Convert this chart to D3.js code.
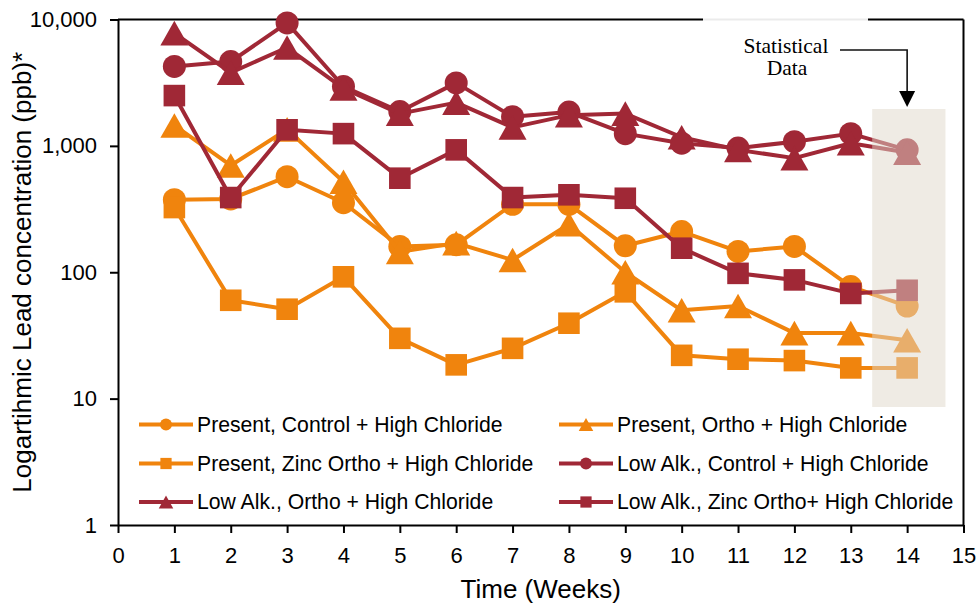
<!DOCTYPE html>
<html>
<head>
<meta charset="utf-8">
<script src="https://cdn.jsdelivr.net/npm/d3@7"></script>
<style>
  html, body { margin: 0; padding: 0; background: #fff; }
  svg { display: block; }
  text { font-family: "Liberation Sans", Arial, sans-serif; fill: #000; }
</style>
</head>
<body>
<svg id="chart" width="979" height="608"></svg>
<script>
// Weeks sampled
const weeks = [1, 2, 3, 4, 5, 6, 7, 8, 9, 10, 11, 12, 13, 14];

// Lead concentration (ppb) per treatment
const presentControl   = [375, 380, 570, 355, 160, 165, 345, 345, 162, 210, 146, 160, 77, 54];
const presentOrtho     = [1450, 700, 1350, 520, 145, 170, 125, 240, 100, 50, 54, 33, 33, 29];
const presentZincOrtho = [325, 60, 51, 92, 30, 18.5, 25, 39.5, 70, 22, 20.5, 20, 17.5, 17.5];
const lowAlkControl    = [4250, 4650, 9400, 2950, 1870, 3150, 1700, 1850, 1250, 1050, 960, 1080, 1250, 930];
const lowAlkOrtho      = [7800, 3800, 6000, 2850, 1800, 2200, 1400, 1750, 1800, 1170, 930, 800, 1050, 885];
const lowAlkZincOrtho  = [2500, 390, 1340, 1250, 555, 930, 390, 410, 385, 155, 98, 87, 68, 72];

const seriesNames = [
  "Present, Control + High Chloride",
  "Present, Ortho + High Chloride",
  "Present, Zinc Ortho + High Chloride",
  "Low Alk., Control + High Chloride",
  "Low Alk., Ortho + High Chloride",
  "Low Alk., Zinc Ortho+ High Chloride"
];

// Axis ticks
const xTicks = d3.range(0, 16);
const yTicks = [1, 10, 100, 1000, 10000];
const yTickLabels = ["1", "10", "100", "1,000", "10,000"];

const ORANGE = "#f0840d";
const MAROON = "#a02836";

const series = [
  { name: seriesNames[0], values: presentControl,   color: ORANGE, shape: "circle" },
  { name: seriesNames[1], values: presentOrtho,     color: ORANGE, shape: "triangle" },
  { name: seriesNames[2], values: presentZincOrtho, color: ORANGE, shape: "square" },
  { name: seriesNames[3], values: lowAlkControl,    color: MAROON, shape: "circle" },
  { name: seriesNames[4], values: lowAlkOrtho,      color: MAROON, shape: "triangle" },
  { name: seriesNames[5], values: lowAlkZincOrtho,  color: MAROON, shape: "square" }
];

const svg = d3.select("#chart");
const plotLeft = 118, plotRight = 963.5, plotTop = 19.5, plotBottom = 525;

const x = d3.scaleLinear().domain([0, 15]).range([plotLeft, plotRight]);
const y = d3.scaleLog().domain([1, 10000]).range([plotBottom, plotTop]);

// marker path generator, centred on (0,0)
function markerPath(shape, s) {
  if (shape === "circle") {
    const r = 11.5 * s;
    return `M${-r},0A${r},${r} 0 1,0 ${r},0A${r},${r} 0 1,0 ${-r},0Z`;
  }
  if (shape === "square") {
    const h = 10.8 * s;
    return `M${-h},${-h}H${h}V${h}H${-h}Z`;
  }
  const w = 14 * s, hh = 12.3 * s;
  return `M0,${-hh}L${w},${hh}L${-w},${hh}Z`;
}

// frame: top and right borders
svg.append("line").attr("x1", plotLeft).attr("x2", plotRight).attr("y1", plotTop).attr("y2", plotTop)
  .attr("stroke", "#000").attr("stroke-width", 2);
svg.append("line").attr("x1", plotRight).attr("x2", plotRight).attr("y1", plotTop).attr("y2", plotBottom)
  .attr("stroke", "#000").attr("stroke-width", 2);

// axes
const xAxis = svg.append("g").attr("transform", `translate(0,${plotBottom})`)
  .call(d3.axisBottom(x).tickValues(xTicks).tickSize(8).tickPadding(14).tickSizeOuter(0).tickFormat(d3.format("d")));
const yAxis = svg.append("g").attr("transform", `translate(${plotLeft},0)`)
  .call(d3.axisLeft(y).tickValues(yTicks).tickSize(8).tickPadding(13).tickSizeOuter(0)
    .tickFormat((d, i) => yTickLabels[i]));
[xAxis, yAxis].forEach(g => {
  g.selectAll("path.domain").attr("stroke", "#000").attr("stroke-width", 2);
  g.selectAll(".tick line").attr("stroke", "#000").attr("stroke-width", 2);
  g.selectAll(".tick text").attr("font-size", 22).attr("fill", "#000")
    .attr("font-family", "'Liberation Sans', Arial, sans-serif");
});

// axis titles
svg.append("text").attr("x", x(7.5)).attr("y", 598).attr("text-anchor", "middle")
  .attr("font-size", 26).text("Time (Weeks)");
svg.append("text").attr("transform", `translate(31,${(plotTop + plotBottom) / 2}) rotate(-90)`)
  .attr("text-anchor", "middle").attr("font-size", 26)
  .text("Logartihmic Lead concentration (ppb)*");

// series lines and markers
const line = d3.line().x((d, i) => x(weeks[i])).y(d => y(d));
const plot = svg.append("g");
series.forEach(s => {
  const g = plot.append("g");
  g.append("path").attr("d", line(s.values)).attr("fill", "none")
    .attr("stroke", s.color).attr("stroke-width", 4).attr("stroke-linejoin", "round");
  g.selectAll("path.mk").data(s.values).join("path").attr("class", "mk")
    .attr("d", markerPath(s.shape, 1))
    .attr("transform", (d, i) => `translate(${x(weeks[i])},${y(d)})`)
    .attr("fill", s.color);
});

// translucent highlight over the final week
svg.append("rect")
  .attr("x", x(13.38)).attr("width", x(14.68) - x(13.38))
  .attr("y", 109).attr("height", 407 - 109)
  .attr("fill", "#dfd7c9").attr("fill-opacity", 0.5);

// annotation label box covering the frame
svg.append("rect").attr("x", 703).attr("y", 12).attr("width", 165).attr("height", 68)
  .attr("fill", "#fff").attr("fill-opacity", 0.92);
const ann = svg.append("text").attr("text-anchor", "middle")
  .style("font-family", "'Liberation Serif', 'Times New Roman', serif").attr("font-size", 21.5);
ann.append("tspan").attr("x", 786).attr("y", 53).text("Statistical");
ann.append("tspan").attr("x", 787).attr("y", 75).text("Data");

// arrow pointing into the highlight
svg.append("path")
  .attr("d", `M840,50H${x(14)}V93`)
  .attr("fill", "none").attr("stroke", "#111").attr("stroke-width", 1.6);
svg.append("path")
  .attr("d", `M${x(14) - 8},91L${x(14) + 8},91L${x(14)},107Z`).attr("fill", "#000");

// legend (two columns, row-major)
const legendCols = [139, 559];
const legendRows = [431.5, 470.5, 509];
series.forEach((s, i) => {
  const cx = legendCols[i % 2], by = legendRows[Math.floor(i / 2)];
  const cy = by - 7;
  const g = svg.append("g");
  g.append("line").attr("x1", cx).attr("x2", cx + 54).attr("y1", cy).attr("y2", cy)
    .attr("stroke", s.color).attr("stroke-width", 4);
  g.append("path").attr("d", markerPath(s.shape, 0.52))
    .attr("transform", `translate(${cx + 27},${cy})`).attr("fill", s.color);
  g.append("text").attr("x", cx + 58).attr("y", by).attr("font-size", 21.2).text(s.name);
});
</script>
</body>
</html>
